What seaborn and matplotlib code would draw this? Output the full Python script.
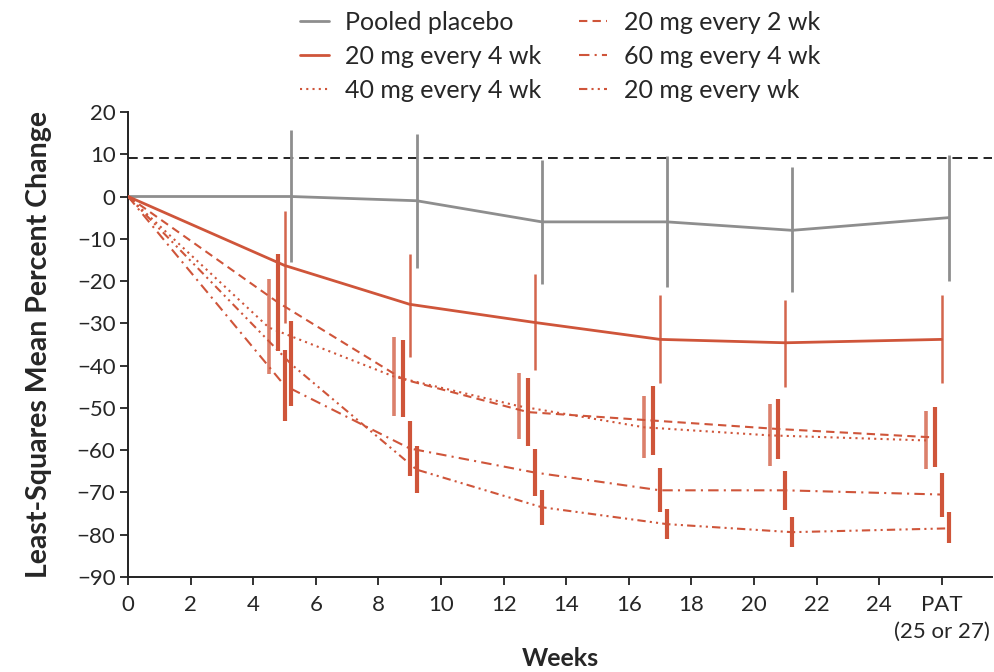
import matplotlib
matplotlib.use("Agg")
import matplotlib.pyplot as plt
import seaborn as sns
import pandas as pd

# visit weeks (PAT drawn at 26)
weeks = [0, 5, 9, 13, 17, 21, 26]
tick_pos = [0, 2, 4, 6, 8, 10, 12, 14, 16, 18, 20, 22, 24, 26]
tick_labels = ["0", "2", "4", "6", "8", "10", "12", "14", "16", "18", "20", "22", "24",
               "PAT\n(25 or 27)"]

series = ["Pooled placebo", "20 mg every 4 wk", "40 mg every 4 wk",
          "20 mg every 2 wk", "60 mg every 4 wk", "20 mg every wk"]

# least-squares mean percent change (baseline first)
placebo_mean = [0, 0, -1, -6, -6, -8, -5]
q4w20_mean = [0, -16.3, -25.5, -29.8, -33.8, -34.6, -33.8]
q4w40_mean = [0, -31, -42.6, -49.6, -54.6, -56.5, -57.7]
q2w20_mean = [0, -25, -43.2, -51, -53, -55, -57]
q4w60_mean = [0, -44.7, -59.6, -65.3, -69.5, -69.5, -70.5]
qw20_mean = [0, -39.7, -64.6, -73.5, -77.5, -79.4, -78.5]

# confidence limits for post-baseline visits
placebo_lo = [-15.4, -16.8, -20.8, -21.3, -22.7, -19.9]
placebo_hi = [15.8, 14.7, 8.7, 9.5, 6.9, 9.8]
q4w20_lo = [-30, -38, -41, -44, -45, -44.2]
q4w20_hi = [-3.5, -13.5, -18.4, -23.4, -24.4, -23.4]
q4w40_lo = [-42.1, -52, -57.4, -61.9, -63.8, -64.5]
q4w40_hi = [-19.6, -33.3, -41.8, -47.3, -49.2, -50.8]
q2w20_lo = [-36.6, -52.2, -59.1, -61.2, -62.2, -64.1]
q2w20_hi = [-13.5, -34, -43, -44.9, -48, -49.9]
q4w60_lo = [-53.2, -66.2, -70.9, -74.7, -74.2, -75.7]
q4w60_hi = [-36.2, -53, -59.8, -64.3, -65, -65.5]
qw20_lo = [-49.6, -70.2, -77.8, -81.1, -83, -82]
qw20_hi = [-29.5, -59.1, -69.5, -74, -75.9, -74.7]

means = [placebo_mean, q4w20_mean, q4w40_mean, q2w20_mean, q4w60_mean, qw20_mean]
lows = [placebo_lo, q4w20_lo, q4w40_lo, q2w20_lo, q4w60_lo, qw20_lo]
highs = [placebo_hi, q4w20_hi, q4w40_hi, q2w20_hi, q4w60_hi, qw20_hi]

red = "#cf553a"
gray = "#8e8e8e"
styles = {
    "Pooled placebo": dict(color=gray, ls="-", lw=2.0, dodge=0.22, elw=2.0, ealpha=1.0),
    "20 mg every 4 wk": dict(color=red, ls="-", lw=2.0, dodge=0.0, elw=1.8, ealpha=0.9),
    "40 mg every 4 wk": dict(color=red, ls=(0, (1, 2)), lw=1.5, dodge=-0.5, elw=2.6, ealpha=0.75),
    "20 mg every 2 wk": dict(color=red, ls=(0, (4, 2.5)), lw=1.5, dodge=-0.22, elw=3.0, ealpha=1.0),
    "60 mg every 4 wk": dict(color=red, ls=(0, (5, 2.5, 1, 2.5)), lw=1.5, dodge=0.0, elw=3.0, ealpha=1.0),
    "20 mg every wk": dict(color=red, ls=(0, (4, 2, 1, 2, 1, 2)), lw=1.5, dodge=0.22, elw=3.0, ealpha=1.0),
}

sns.set_style("ticks")
plt.rcParams["font.family"] = ["Lato", "DejaVu Sans"]

fig = plt.figure(figsize=(9.94, 6.72), dpi=100)
ax = fig.add_axes([0.1288, 0.1414, 0.869, 0.692])

ax.axhline(9, color="#222222", ls=(0, (5, 3)), lw=1.4, zorder=1)

handles = []
for name, m, lo, hi in zip(series, means, lows, highs):
    st = styles[name]
    x = [weeks[0]] + [w + st["dodge"] for w in weeks[1:]]
    df = pd.DataFrame({"week": x, "change": m})
    sns.lineplot(data=df, x="week", y="change", ax=ax, color=st["color"],
                 linestyle=st["ls"], linewidth=st["lw"], zorder=3)
    handles.append(ax.lines[-1])
    ax.vlines(x[1:], lo, hi, colors=st["color"], linewidth=st["elw"],
              alpha=st["ealpha"], zorder=4)

ax.set_xlim(0, 27.6)
ax.set_ylim(-90, 20)
ax.set_yticks(range(-90, 21, 10))
ax.set_xticks(tick_pos)
ax.set_xticklabels(tick_labels, fontsize=16, linespacing=1.4)
ax.tick_params(axis="y", labelsize=16, pad=3)
ax.tick_params(axis="x", pad=7)
ax.tick_params(direction="out", length=6, width=1.3, color="#222222")
sns.despine(ax=ax)
for sp in ["left", "bottom"]:
    ax.spines[sp].set_linewidth(1.4)
    ax.spines[sp].set_color("#222222")

ax.set_xlabel("Weeks", fontsize=18, fontweight="bold", labelpad=4)
ax.set_ylabel("Least-Squares Mean Percent Change", fontsize=20.5, fontweight="bold", labelpad=18)

ax.legend(handles, series, ncol=2, loc="lower center", bbox_to_anchor=(0.5, 1.0),
          frameon=False, fontsize=18, handlelength=1.15, handletextpad=0.65,
          columnspacing=1.5, labelspacing=0.44, borderaxespad=0.0)

fig.savefig("out.png", dpi=100)
